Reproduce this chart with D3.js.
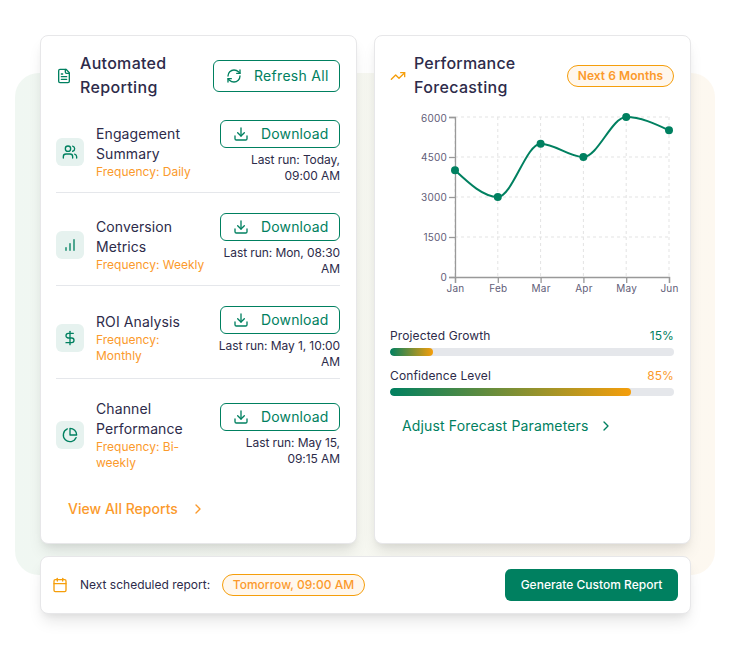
<!DOCTYPE html>
<html><head><meta charset="utf-8">
<script src="https://cdn.jsdelivr.net/npm/d3@7/dist/d3.min.js"></script>
<style>
html,body{margin:0;padding:0;background:#fff;width:730px;height:670px;overflow:hidden}
body{font-family:Inter,"Noto Sans",sans-serif;position:relative}
.abs{position:absolute}
.bg{border-radius:24px;background:linear-gradient(90deg,#f0f7f2,#fdf8f0)}
.card{background:#fff;border:1px solid #e7e7e9;border-radius:8px;box-sizing:border-box;box-shadow:0 10px 15px -3px rgba(0,0,0,.1),0 4px 6px -2px rgba(0,0,0,.05)}
.t{position:absolute;white-space:nowrap;transform:translateY(-50%);color:#2d2b4a}
.r{transform:translate(-100%,-50%)}
.c{transform:translate(-50%,-50%)}
.btn{position:absolute;box-sizing:border-box;border:1px solid #008060;border-radius:6px;background:#fff}
.pill{position:absolute;box-sizing:border-box;border:1px solid #f59e0b;border-radius:12px;background:#fff7ed}
svg.i{position:absolute;fill:none;stroke-linecap:round;stroke-linejoin:round;stroke-width:2}
</style></head><body>
<script>
const months=["Jan","Feb","Mar","Apr","May","Jun"];
const forecastValues=[4000,3000,5000,4500,6000,5500];
const yTicks=[0,1500,3000,4500,6000];
const reportNames=[["Engagement","Summary"],["Conversion","Metrics"],["ROI Analysis"],["Channel","Performance"]];
const reportFrequencies=[["Frequency: Daily"],["Frequency: Weekly"],["Frequency:","Monthly"],["Frequency: Bi-","weekly"]];
const reportLastRuns=[["Last run: Today,","09:00 AM"],["Last run: Mon, 08:30","AM"],["Last run: May 1, 10:00","AM"],["Last run: May 15,","09:15 AM"]];
const progressLabels=["Projected Growth","Confidence Level"];
const progressValues=[15,85];

const GREEN="#008060",ORANGE="#f59e0b",SOFT="#fb9a2c",INK="#2d2b4a";
const icons={
 doc:'<path d="M15 2H6a2 2 0 0 0-2 2v16a2 2 0 0 0 2 2h12a2 2 0 0 0 2-2V7Z"/><path d="M14 2v4a2 2 0 0 0 2 2h4"/><path d="M10 9H8"/><path d="M16 13H8"/><path d="M16 17H8"/>',
 refresh:'<path d="M3 12a9 9 0 0 1 9-9 9.75 9.75 0 0 1 6.74 2.74L21 8"/><path d="M21 3v5h-5"/><path d="M21 12a9 9 0 0 1-9 9 9.75 9.75 0 0 1-6.74-2.74L3 16"/><path d="M8 16H3v5"/>',
 download:'<path d="M21 15v4a2 2 0 0 1-2 2H5a2 2 0 0 1-2-2v-4"/><path d="M7 10l5 5 5-5"/><path d="M12 15V3"/>',
 users:'<path d="M16 21v-2a4 4 0 0 0-4-4H6a4 4 0 0 0-4 4v2"/><circle cx="9" cy="7" r="4"/><path d="M22 21v-2a4 4 0 0 0-3-3.87"/><path d="M16 3.13a4 4 0 0 1 0 7.75"/>',
 bars:'<path d="M6 20v-4"/><path d="M12 20V10"/><path d="M18 20V4"/>',
 dollar:'<path d="M12 2v20"/><path d="M17 5H9.5a3.5 3.5 0 0 0 0 7h5a3.5 3.5 0 0 1 0 7H6"/>',
 pie:'<path d="M21.21 15.89A10 10 0 1 1 8 2.83"/><path d="M22 12A10 10 0 0 0 12 2v10z"/>',
 trend:'<path d="M22 7l-8.5 8.5-5-5L2 17"/><path d="M16 7h6v6"/>',
 chev:'<path d="M9 18l6-6-6-6"/>',
 cal:'<path d="M8 2v4"/><path d="M16 2v4"/><rect x="3" y="4" width="18" height="18" rx="2"/><path d="M3 10h18"/>'
};
const body=d3.select("body");
function box(cls,x,y,w,h){return body.append("div").attr("class",cls+" abs").style("left",x+"px").style("top",y+"px").style("width",w+"px").style("height",h+"px");}
function text(s,x,y,o={}){
 const up=(o.s||14)>=16?0.5:1;
 return body.append("div").attr("class","t "+(o.a||"")).text(s).style("left",x+"px").style("top",(y-up)+"px")
  .style("font-size",(o.s||14)+"px").style("font-weight",o.w||400).style("color",o.c||INK).style("letter-spacing",(o.l??0)+"px");
}
function icon(name,cx,cy,size,color,sw){
 body.append("svg").attr("class","i").attr("viewBox","0 0 24 24").attr("width",size).attr("height",size)
  .style("left",(cx-size/2)+"px").style("top",(cy-size/2)+"px").style("stroke",color).style("stroke-width",sw||2).html(icons[name]);
}
box("bg",15,73,700,502);
box("card",40,35,316.5,508.5);
box("card",374,35,316.5,508.5);
box("card",40,556,650.5,57.5);

// left header
icon("doc",64,76,16,GREEN);
text("Automated",80,63,{s:16,w:500,l:.3});
text("Reporting",80,87,{s:16,w:500,l:.35});
box("btn",213,60,127,32);
icon("refresh",234,76,16,GREEN);
text("Refresh All",254,76,{s:14,w:400,c:GREEN,l:.3});

// report rows
const rowTops=[120,213,306,403];
const nameY=[[134,154],[227,247],[322],[409,429]];
const iconY=[152,245,338,435];
const rowIcons=["users","bars","dollar","pie"];
reportNames.forEach((lines,i)=>{
 box("",56,iconY[i]-14,28,28).style("background","#e6f2ef").style("border-radius",6+"px");
 icon(rowIcons[i],70,iconY[i],16,GREEN);
 lines.forEach((s,j)=>text(s,96,nameY[i][j],{s:14,w:400,l:.1}));
 const fy=nameY[i][lines.length-1]+18;
 reportFrequencies[i].forEach((s,j)=>text(s,96,fy+j*16,{s:12,c:SOFT,l:0}));
 box("btn",220,rowTops[i],120,28);
 icon("download",241,rowTops[i]+14,16,GREEN);
 text("Download",261,rowTops[i]+14,{s:14,w:400,c:GREEN,l:.15});
 reportLastRuns[i].forEach((s,j)=>text(s,340,rowTops[i]+40+j*16,{s:12,a:"r",l:-.08}));
 if(i<3) box("",56,192+i*93,284,1).style("background","#e5e7eb");
});
text("View All Reports",68,509,{s:14,w:500,c:SOFT,l:.02});
icon("chev",198,509,16,SOFT);

// right header
icon("trend",398,76,16,ORANGE);
text("Performance",414,63,{s:16,w:500,l:.2});
text("Forecasting",414,87,{s:16,w:500,l:.35});
box("pill",567,65,107,22);
text("Next 6 Months",620.5,76,{s:12,w:600,c:SOFT,a:"c",l:.05});

// chart
const W=284,H=190,ox=390,oy=105;
const svg=body.append("svg").attr("class","abs").attr("width",W).attr("height",H).style("left",ox+"px").style("top",oy+"px").style("overflow","visible");
const x=d3.scalePoint().domain(months).range([65,279]);
const y=d3.scaleLinear().domain([0,6000]).range([172,12]);
const grid=svg.append("g").attr("stroke","#e3e3e3").attr("stroke-dasharray","3 3").attr("fill","none");
grid.selectAll("line.h").data(yTicks.filter(d=>d>0)).join("line").attr("class","h").attr("x1",x(months[0])).attr("x2",x(months[5])).attr("y1",d=>y(d)).attr("y2",d=>y(d));
grid.selectAll("line.v").data(months).join("line").attr("class","v").attr("x1",d=>x(d)).attr("x2",d=>x(d)).attr("y1",y(6000)).attr("y2",y(0));
const styleAxis=g=>{g.selectAll("path,line").attr("stroke","#999").attr("stroke-width",1.3);g.selectAll("text").attr("fill","#5f5d78").style("font-family","Inter").style("font-size","10px").style("letter-spacing",".2px");};
svg.append("g").attr("transform",`translate(${x(months[0])},0)`).call(d3.axisLeft(y).tickValues(yTicks).tickFormat(d3.format("d")).tickSize(6).tickPadding(2).tickSizeOuter(6)).call(styleAxis)
  .selectAll(".tick text").filter(d=>d===d3.max(yTicks)).attr("y",1.5);
svg.append("g").attr("transform",`translate(0,${y(0)})`).call(d3.axisBottom(x).tickSize(6).tickPadding(2).tickSizeOuter(6)).call(styleAxis);
const line=d3.line().x((d,i)=>x(months[i])).y(d=>y(d)).curve(d3.curveMonotoneX);
svg.append("path").datum(forecastValues).attr("d",line).attr("fill","none").attr("stroke",GREEN).attr("stroke-width",2);
svg.selectAll("circle").data(forecastValues).join("circle").attr("cx",(d,i)=>x(months[i])).attr("cy",d=>y(d)).attr("r",4).attr("fill",GREEN);

// progress
const barX=d3.scaleLinear().domain([0,100]).range([0,284]);
const labelY=[336,376],barY=[348,388],valCol=[GREEN,SOFT];
progressLabels.forEach((s,i)=>{
 text(s,390,labelY[i],{s:12,w:400,l:.12});
 text(progressValues[i]+"%",674,labelY[i],{s:12,c:valCol[i],a:"r",l:.1});
 const tr=box("",390,barY[i],284,8).style("background","#e5e7eb").style("border-radius","4px").style("overflow","hidden");
 tr.append("div").style("height","8px").style("width",barX(progressValues[i])+"px").style("border-radius","4px").style("background",`linear-gradient(90deg,${GREEN},${ORANGE})`);
});
text("Adjust Forecast Parameters",402,426,{s:14,w:400,c:GREEN,l:.15});
icon("chev",606,426,16,GREEN);

// footer
icon("cal",60,585,16,ORANGE);
text("Next scheduled report:",80,585,{s:12,l:0});
box("pill",222,574,143,22);
text("Tomorrow, 09:00 AM",293.5,585,{s:12,w:500,c:SOFT,a:"c",l:.02});
box("",505,569,173,32).style("background",GREEN).style("border-radius","6px");
text("Generate Custom Report",591.5,585,{s:12,w:500,c:"#fff",a:"c",l:0});
</script>
</body></html>
